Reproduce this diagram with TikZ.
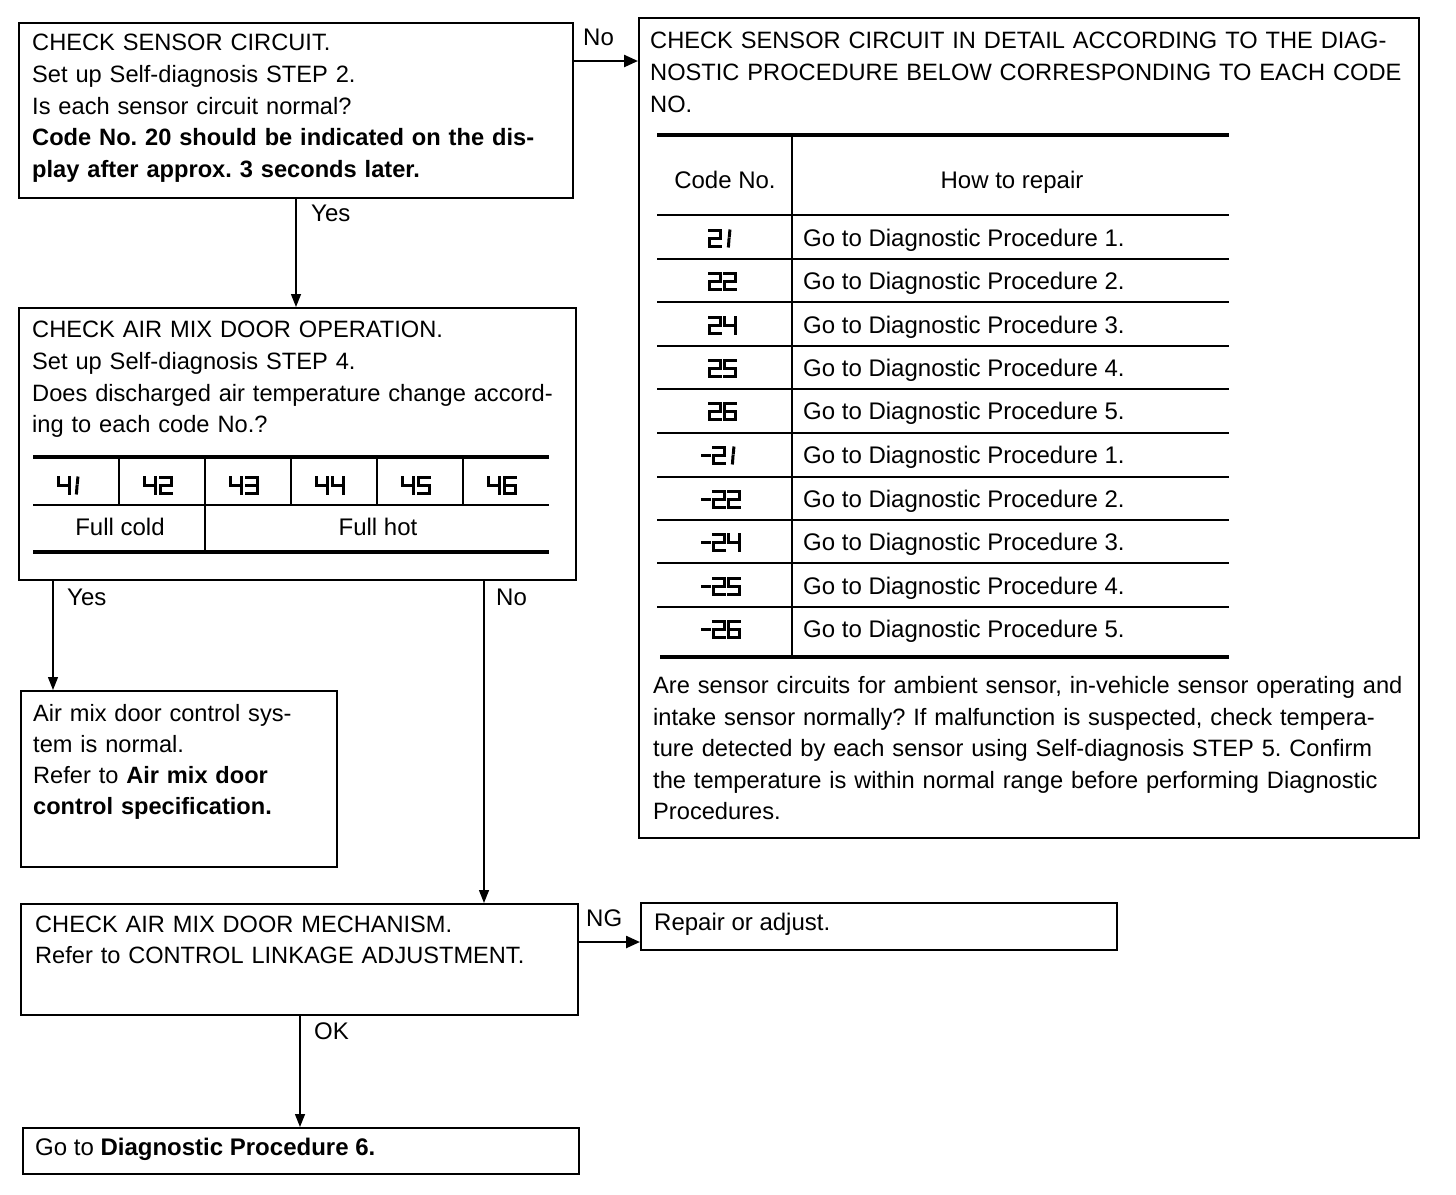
\documentclass[tikz,border=0pt]{standalone}
\usepackage{fontspec}
\setmainfont{Liberation Sans}
\usetikzlibrary{arrows.meta,calc}
\frenchspacing
\tikzset{
  box/.style={draw, line width=1.8pt, inner sep=0pt, anchor=north west},
  txt/.style={inner sep=0pt, anchor=base west, align=left, text width=#1},
  txt/.default=780pt,
  fA/.style={font=\fontsize{23.65}{31.7}\selectfont},
  fB/.style={font=\fontsize{23.65}{32}\selectfont},
  fC/.style={font=\fontsize{23.65}{31.5}\selectfont},
  fD/.style={font=\fontsize{23.6}{31}\selectfont},
  lbl/.style={inner sep=0pt, anchor=base west, font=\fontsize{24}{28}\selectfont},
  ctr/.style={inner sep=0pt, anchor=base, font=\fontsize{24}{28}\selectfont},
  harr/.style={line width=2.4pt, -{Triangle[length=14pt,width=12pt]}},
  varr/.style={line width=1.4pt, -{Triangle[length=13pt,width=10pt]}},
  fatrule/.style={line width=4pt},
  thinrule/.style={line width=1.8pt},
  colrule/.style={line width=2.4pt},
  seg/.style={line width=3pt, line cap=rect, line join=miter},
  dtwo/.pic={\draw[seg] (0,0)--(11,0)--(11,-8)--(0,-8)--(0,-16)--(11,-16);},
  dthree/.pic={\draw[seg] (0,0)--(11,0)--(11,-16)--(0,-16); \draw[seg] (0,-8)--(11,-8);},
  dfour/.pic={\draw[seg] (0,0)--(0,-8)--(11,-8); \draw[seg] (11,0)--(11,-16);},
  dfive/.pic={\draw[seg] (11,0)--(0,0)--(0,-8)--(11,-8)--(11,-16)--(0,-16);},
  dsix/.pic={\draw[seg] (11,0)--(0,0)--(0,-16)--(11,-16)--(11,-8)--(0,-8);},
  done/.pic={\draw[seg] (5.8,-1)--(5.4,-5.8); \draw[seg] (5,-9)--(4.5,-16);},
  dminus/.pic={\draw[seg] (0,-8)--(7.5,-8);},
}
\begin{document}
\begin{tikzpicture}[x=1pt,y=1pt]
\useasboundingbox (0,0) rectangle (1456,-1194);

% boxes
\node[box, minimum width=554pt, minimum height=175pt] (b1) at (18,-22) {};
\node[box, minimum width=780pt, minimum height=820pt] (b2) at (638,-17) {};
\node[box, minimum width=557pt, minimum height=272pt] (b3) at (18,-307) {};
\node[box, minimum width=316pt, minimum height=176pt] (b4) at (20,-690) {};
\node[box, minimum width=557pt, minimum height=111pt] (b5) at (20,-903) {};
\node[box, minimum width=476pt, minimum height=47pt] (b6) at (640,-902) {};
\node[box, minimum width=556pt, minimum height=46pt] (b7) at (22,-1127) {};

% box texts
\node[txt, fA] (t1) at (32,-50.6) {CHECK SENSOR CIRCUIT.\\
Set up Self-diagnosis STEP 2.\\
Is each sensor circuit normal?\\
\textbf{Code No. 20 should be indicated on the dis-}\\
\textbf{play after approx. 3 seconds later.}};

\node[txt, fB] (t2) at (650,-48.6) {CHECK SENSOR CIRCUIT IN DETAIL ACCORDING TO THE DIAG-\\
NOSTIC PROCEDURE BELOW CORRESPONDING TO EACH CODE\\
NO.};

\node[txt, fC] (t2b) at (653,-693.6) {Are sensor circuits for ambient sensor, in-vehicle sensor operating and\\
intake sensor normally? If malfunction is suspected, check tempera-\\
ture detected by each sensor using Self-diagnosis STEP 5. Confirm\\
the temperature is within normal range before performing Diagnostic\\
Procedures.};

\node[txt, fA] (t3) at (32,-337.6) {CHECK AIR MIX DOOR OPERATION.\\
Set up Self-diagnosis STEP 4.\\
Does discharged air temperature change accord-\\
ing to each code No.?};

\node[txt, fD] (t4) at (33,-721.6) {Air mix door control sys-\\
tem is normal.\\
Refer to \textbf{Air mix door}\\
\textbf{control specification.}};

\node[txt, fD] (t5) at (35,-932.6) {CHECK AIR MIX DOOR MECHANISM.\\
Refer to CONTROL LINKAGE ADJUSTMENT.};

\node[lbl] (t6) at (654,-930.6) {Repair or adjust.};
\node[lbl] (t7) at (35,-1155.6) {Go to \textbf{Diagnostic Procedure 6.}};

% code table in b2
\draw[fatrule] (657,-135) -- (1229,-135);
\draw[thinrule] (657,-215) -- (1229,-215);
\foreach \yy in {259,302,346,389,433,477,520,563,607}
  \draw[thinrule] (657,-\yy) -- (1229,-\yy);
\draw[fatrule] (660,-657) -- (1229,-657);
\draw[colrule] (792,-137) -- (792,-655);
\node[ctr] (hcode) at (725,-188.6) {Code No.};
\node[ctr] (hrep) at (1012,-188.6) {How to repair};

\foreach \c/\n [count=\i] in {238/1,281/2,325/3,368/4,411/5,455/1,499/2,542/3,586/4,629/5}
  \node[lbl] (r\i) at (803,-\c-8.6) {Go to Diagnostic Procedure \n.};

% codes 21 22 24 25 26
\pic at (709,-230) {dtwo};   \pic at (724,-230) {done};
\pic at (709,-273) {dtwo};   \pic at (724,-273) {dtwo};
\pic at (709,-317) {dtwo};   \pic at (724,-317) {dfour};
\pic at (709,-360) {dtwo};   \pic at (724,-360) {dfive};
\pic at (709,-403) {dtwo};   \pic at (724,-403) {dsix};
% codes -21 -22 -24 -25 -26
\pic at (702,-447) {dminus}; \pic at (713,-447) {dtwo}; \pic at (728,-447) {done};
\pic at (702,-491) {dminus}; \pic at (713,-491) {dtwo}; \pic at (728,-491) {dtwo};
\pic at (702,-534) {dminus}; \pic at (713,-534) {dtwo}; \pic at (728,-534) {dfour};
\pic at (702,-578) {dminus}; \pic at (713,-578) {dtwo}; \pic at (728,-578) {dfive};
\pic at (702,-621) {dminus}; \pic at (713,-621) {dtwo}; \pic at (728,-621) {dsix};

% table in b3
\draw[fatrule] (33,-457) -- (549,-457);
\draw[thinrule] (33,-505) -- (549,-505);
\draw[fatrule] (33,-552) -- (549,-552);
\foreach \xx in {119,291,377,463}
  \draw[colrule] (\xx,-457) -- (\xx,-505);
\draw[colrule] (205,-457) -- (205,-552);
\pic at (58,-477) {dfour};    \pic at (72,-477) {done};
\pic at (144.5,-477) {dfour}; \pic at (160,-477) {dtwo};
\pic at (230.5,-477) {dfour}; \pic at (246,-477) {dthree};
\pic at (316.5,-477) {dfour}; \pic at (332,-477) {dfour};
\pic at (402.5,-477) {dfour}; \pic at (418,-477) {dfive};
\pic at (488.5,-477) {dfour}; \pic at (504,-477) {dsix};
\node[ctr] (fc) at (120,-535.6) {Full cold};
\node[ctr] (fh) at (378,-535.6) {Full hot};

% connector coordinates
\coordinate (yNo) at (0,-61);
\coordinate (yNG) at (0,-942);
\coordinate (xA) at (296,0);
\coordinate (xB) at (53,0);
\coordinate (xC) at (484,0);
\coordinate (xD) at (300,0);

% connectors
\draw[harr] (b1.east |- yNo) -- (b2.west |- yNo);
\draw[varr] (b1.south -| xA) -- (b3.north -| xA);
\draw[varr] (b3.south -| xB) -- (b4.north -| xB);
\draw[varr] (b3.south -| xC) -- (b5.north -| xC);
\draw[harr] (b5.east |- yNG) -- (b6.west |- yNG);
\draw[varr] (b5.south -| xD) -- (b7.north -| xD);

% connector labels
\node[lbl] (lNo1) at (583,-45.6) {No};
\node[lbl] (lYes1) at (311,-221.6) {Yes};
\node[lbl] (lYes2) at (67,-605.6) {Yes};
\node[lbl] (lNo2) at (496,-605.6) {No};
\node[lbl] (lNG) at (586,-926.6) {NG};
\node[lbl] (lOK) at (314,-1039.6) {OK};
\end{tikzpicture}
\end{document}
